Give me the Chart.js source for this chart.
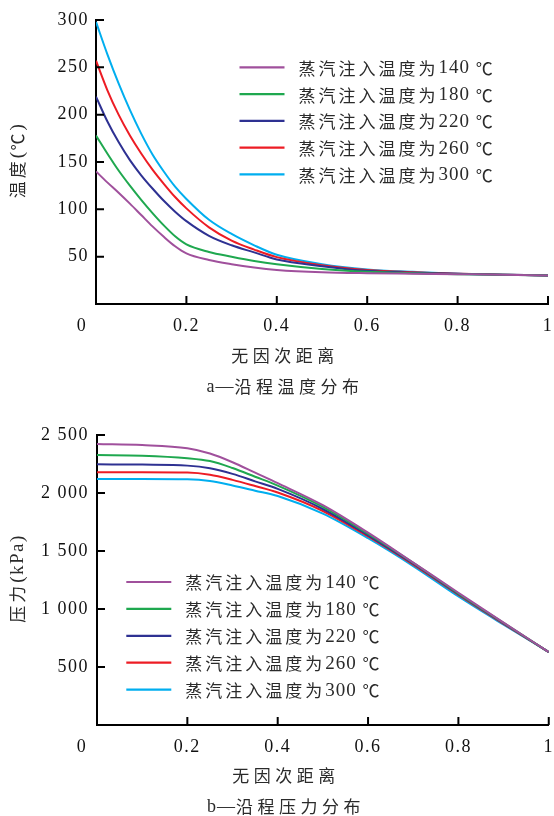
<!DOCTYPE html>
<html>
<head>
<meta charset="utf-8">
<script src="https://cdn.jsdelivr.net/npm/chart.js@4.4.0/dist/chart.umd.min.js"></script>
<style>
html,body{margin:0;padding:0;background:#fff;overflow:hidden;width:554px;height:816px;}
canvas{position:absolute;left:0;}
</style>
</head>
<body>
<canvas id="c1" width="554" height="404" style="top:0px"></canvas>
<canvas id="c2" width="554" height="412" style="top:404px"></canvas>
<script>
// ---------- data ----------
const seriesLabels = ['蒸汽注入温度为140 ℃','蒸汽注入温度为180 ℃','蒸汽注入温度为220 ℃','蒸汽注入温度为260 ℃','蒸汽注入温度为300 ℃'];
const seriesColors = ['#A0509C','#1FA84F','#2E3192','#ED1C24','#00AEEF'];
const xTickLabels = ['0','0.2','0.4','0.6','0.8','1'];

// (a) temperature along the path
const distanceT = [0,0.025,0.05,0.075,0.1,0.125,0.15,0.175,0.2,0.25,0.3,0.35,0.4,0.5,0.6,0.7,0.8,0.9,1];
const temp140 = [140,128.5,117.5,106,94,82,71,61,53.5,46.5,42,38.5,36,33.5,32.5,32,31.5,31,30];
const temp180 = [178,159,141,125,110,96,83,71.5,63,55,50,45.5,42,37,34,32.5,31.5,31,30];
const temp220 = [219,193,171,152,136,122,109,97.5,87.5,72,62,54.5,47,40,35,33,32,31,30];
const temp260 = [257,226,200,178,159,142,127,113,101,81,67,57.5,49.5,41,36,33.5,32,31,30];
const temp300 = [298,264,233,205,180,158,140,124,111,89,74,62,52,42,36.5,34,32,31,30];
const tempTickLabels = ['','50','100','150','200','250','300'];

// (b) pressure along the path
const distanceP = [0,0.1,0.2,0.25,0.3,0.35,0.4,0.5,0.6,0.7,0.8,0.9,1];
const pres140 = [2422,2413,2385,2340,2265,2175,2085,1895,1658,1400,1140,882,629];
const pres180 = [2327,2322,2300,2275,2215,2140,2064,1880,1648,1398,1133,880,629];
const pres220 = [2247,2245,2236,2213,2165,2100,2035,1862,1635,1390,1128,876,629];
const pres260 = [2178,2178,2176,2157,2113,2060,2004,1845,1625,1382,1122,872,629];
const pres300 = [2121,2121,2118,2103,2065,2020,1974,1822,1610,1370,1108,865,629];
const presTickLabels = ['','500','1 000','1 500','2 000','2 500'];

// ---------- drawing ----------
const TICK_FONT = {family:"'Liberation Serif','Times New Roman',serif", size:18, lineHeight:44/18};
const CJK_FAMILY = "'Noto Sans CJK SC',sans-serif";
const LAT_FAMILY = "'Liberation Serif','Times New Roman',serif";

// draws mixed CJK / Latin text as runs with separate size & spacing
function drawRuns(ctx, text, x, y, align, st){
  const runs = text.match(/[\u2E80-\u9FFF\u2103]+|[^\u2E80-\u9FFF\u2103]+/g) || [];
  const parts = runs.map(r => {
    const cjk = /[\u2E80-\u9FFF\u2103]/.test(r);
    const font = (cjk ? st.cjkSize : st.latSize) + 'px ' + (cjk ? CJK_FAMILY : LAT_FAMILY);
    const sp = (cjk ? st.cjkSp : st.latSp) + 'px';
    ctx.font = font; ctx.letterSpacing = sp;
    return {r, font, sp, w: ctx.measureText(r).width};
  });
  const total = parts.reduce((s, p) => s + p.w, 0);
  let cx = align === 'center' ? x - total / 2 : x;
  ctx.textAlign = 'left'; ctx.textBaseline = 'middle';
  parts.forEach(p => {
    ctx.font = p.font; ctx.letterSpacing = p.sp;
    ctx.fillText(p.r, cx, y);
    cx += p.w;
  });
}

const decor = {
  id: 'decor',
  beforeLayout(chart){ chart.ctx.letterSpacing = '1.5px'; },
  beforeDraw(chart){ chart.ctx.letterSpacing = '1.5px'; },
  afterDraw(chart, args, o){
    const {ctx, chartArea:a, scales:{x, y}} = chart;
    ctx.save();
    // inward tick marks
    ctx.strokeStyle = '#000'; ctx.lineWidth = 2;
    ctx.beginPath();
    x.ticks.forEach(t => { if (t.value === 0) return;
      const px = x.getPixelForValue(t.value);
      ctx.moveTo(px, a.bottom); ctx.lineTo(px, a.bottom - 8); });
    y.ticks.forEach(t => { if (t.value === 0) return;
      const py = y.getPixelForValue(t.value);
      ctx.moveTo(a.left, py); ctx.lineTo(a.left + 8, py); });
    ctx.stroke();
    // shared origin label
    ctx.letterSpacing = '1.5px';
    ctx.fillStyle = '#111';
    ctx.font = "18px " + LAT_FAMILY;
    ctx.textAlign = 'center'; ctx.textBaseline = 'middle';
    ctx.fillText(xTickLabels[0], x.getPixelForValue(0) + o.zeroDX, a.bottom + 22);
    // legend
    chart.data.datasets.forEach((ds, i) => {
      const ly = a.top + o.legendY + i * o.rowGap;
      const lx = a.left + o.legendX;
      ctx.strokeStyle = ds.borderColor; ctx.lineWidth = 2.2;
      ctx.beginPath(); ctx.moveTo(lx, ly); ctx.lineTo(lx + 45, ly); ctx.stroke();
      ctx.fillStyle = '#2a2a2a';
      drawRuns(ctx, ds.label, lx + 59, ly + 1, 'left', {cjkSize:17, cjkSp:3, latSize:19, latSp:1});
    });
    // x title and caption
    ctx.fillStyle = '#2a2a2a';
    drawRuns(ctx, o.xTitle, o.centerX + 2, a.bottom + o.titleDY, 'center', {cjkSize:17, cjkSp:4.5, latSize:18, latSp:1});
    drawRuns(ctx, o.caption, o.centerX + 2, a.bottom + o.captionDY, 'center', {cjkSize:17, cjkSp:4.5, latSize:18, latSp:1});
    // y title
    ctx.translate(o.yTitleX, (a.top + a.bottom) / 2);
    ctx.rotate(-Math.PI / 2);
    drawRuns(ctx, o.yTitle, 1.5, 0, 'center', {cjkSize:17, cjkSp:3, latSize:19, latSp:1.5});
    ctx.restore();
  }
};

function pts(xs, ys){ return xs.map((v, i) => ({x: v, y: ys[i]})); }

function makeChart(id, cfg){
  const axisStyle = {
    grid: {display: true, drawOnChartArea: false, drawTicks: false},
    border: {display: true, color: '#000', width: 2}
  };
  return new Chart(document.getElementById(id), {
    type: 'line',
    data: {
      datasets: cfg.values.map((vals, i) => ({
        label: seriesLabels[i],
        data: pts(cfg.xs, vals),
        borderColor: seriesColors[i],
        borderWidth: 2,
        pointRadius: 0,
        cubicInterpolationMode: 'monotone',
        fill: false
      }))
    },
    options: {
      responsive: false,
      devicePixelRatio: 1,
      animation: false,
      events: [],
      layout: {padding: cfg.padding},
      plugins: {legend: {display: false}, tooltip: {enabled: false}, decor: cfg.decor},
      scales: {
        x: Object.assign({
          type: 'linear', min: 0, max: 1,
          afterFit: s => { s.height = 34; },
          ticks: {stepSize: 0.2, autoSkip: false, maxRotation: 0, padding: 0, color: '#111',
                  font: TICK_FONT, callback: (v, i) => i === 0 ? '' : xTickLabels[i]}
        }, axisStyle),
        y: Object.assign({
          type: 'linear', min: 0, max: cfg.yMax,
          afterFit: s => { s.width = cfg.yWidth; },
          ticks: {stepSize: cfg.yStep, autoSkip: false, padding: cfg.yPad, color: '#111',
                  font: {family: TICK_FONT.family, size: 18, lineHeight: 1.2},
                  callback: (v, i) => cfg.yLabels[i]}
        }, axisStyle)
      }
    },
    plugins: [decor]
  });
}

makeChart('c1', {
  xs: distanceT,
  values: [temp140, temp180, temp220, temp260, temp300],
  yMax: 300, yStep: 50, yLabels: tempTickLabels,
  yWidth: 96, yPad: 7,
  padding: {left: 0, right: 6, top: 20, bottom: 66},
  decor: {legendX: 143.5, legendY: 47.3, rowGap: 26.75, zeroDX: -14,
          xTitle: '无因次距离', caption: 'a—沿程温度分布', titleDY: 52, captionDY: 83,
          centerX: 283, yTitle: '温度(℃)', yTitleX: 18}
});

makeChart('c2', {
  xs: distanceP,
  values: [pres140, pres180, pres220, pres260, pres300],
  yMax: 2500, yStep: 500, yLabels: presTickLabels,
  yWidth: 97, yPad: 8,
  padding: {left: 0, right: 4, top: 31, bottom: 57},
  decor: {legendX: 29.3, legendY: 147, rowGap: 26.9, zeroDX: -15,
          xTitle: '无因次距离', caption: 'b—沿程压力分布', titleDY: 51, captionDY: 82,
          centerX: 284, yTitle: '压力(kPa)', yTitleX: 18}
});
</script>
</body>
</html>
